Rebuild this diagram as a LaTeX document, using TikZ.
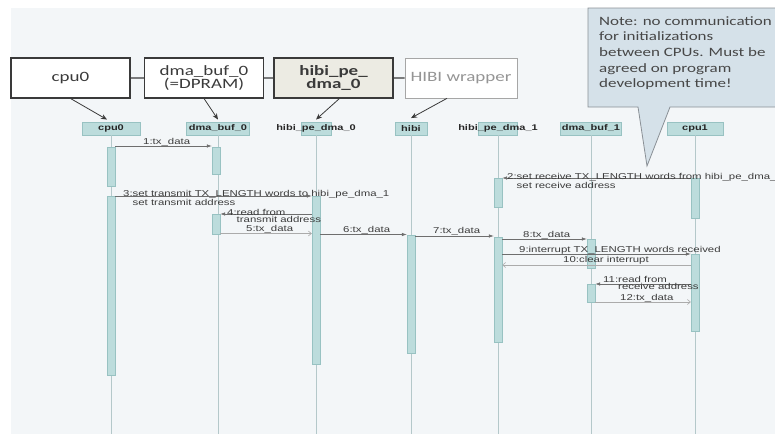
\documentclass[tikz,border=0pt]{standalone}
\usepackage{fontspec}
\setmainfont{Liberation Sans}
\newfontfamily\slidefont{Carlito}
\usetikzlibrary{arrows.meta}

\definecolor{bgc}{HTML}{F3F6F8}
\definecolor{tealf}{HTML}{BCDCDC}
\definecolor{tealb}{HTML}{98C2C2}
\definecolor{lifec}{HTML}{B4C8CA}
\definecolor{callc}{HTML}{6E6E6E}
\definecolor{retc}{HTML}{ABABAB}
\definecolor{lblc}{HTML}{3C3C3C}
\definecolor{boxc}{HTML}{3A3A3A}
\definecolor{hibif}{HTML}{ECEBE3}
\definecolor{wrapc}{HTML}{A6A6A6}
\definecolor{notef}{HTML}{D5E1E9}
\definecolor{noteb}{HTML}{8A9096}

\begin{document}
\begin{tikzpicture}[x=1pt, y=-1.3333pt, yscale=0.75,
  topbox/.style={draw=boxc, line width=1.3pt, fill=white, transform shape,
    minimum width=119pt, minimum height=53.3pt, inner sep=0pt, align=center,
    text=boxc, font=\slidefont\fontsize{19}{17.5}\selectfont},
  head/.style={draw=tealb, fill=tealf, minimum height=13pt, inner sep=0pt},
  headtxt/.style={transform shape, inner sep=0pt, text=black!85,
    font=\bfseries\fontsize{11}{13}\selectfont},
  act/.style={draw=tealb, fill=tealf, minimum width=8pt, inner sep=0pt},
  life/.style={draw=lifec, line width=0.9pt},
  call/.style={draw=callc, line width=0.6pt, -{Latex[length=5pt,width=3.5pt]}},
  ret/.style={draw=retc, line width=0.6pt, -{Straight Barb[length=3pt,width=5pt]}},
  lbl/.style={transform shape, anchor=north west, inner sep=0pt, align=left,
    text=lblc, font=\fontsize{11.4}{9.6}\selectfont},
  ptr/.style={draw=boxc, line width=0.8pt, -{Stealth[length=6pt,width=5pt]}}
]

\useasboundingbox (0,0) rectangle (775,434);
\fill[bgc] (11,8) rectangle (775,434);

% blocks of the platform
\node[topbox] (cpu0box) at (70.5,78) {cpu0};
\node[topbox] (dmabox) at (204,78) {dma\_buf\_0\\(=DPRAM)};
\node[topbox, fill=hibif, font=\slidefont\bfseries\fontsize{19}{18.5}\selectfont] (hpdbox) at (333.5,78) {hibi\_pe\_\\dma\_0};
\node[topbox, draw=wrapc, line width=0.9pt, text=wrapc!90!black, minimum width=112pt] (wrapbox) at (461,78) {HIBI wrapper};
\draw[boxc, line width=1.3pt] (cpu0box) -- (dmabox) (dmabox) -- (hpdbox) (hpdbox) -- (wrapbox);

% note
\draw[noteb, fill=notef, line width=0.8pt] (588,8) -- (780,8) -- (780,107) -- (670,107)
  -- (647,166) -- (638,107) -- (588,107) -- cycle;
\node[transform shape, anchor=north west, inner sep=0pt, align=left, text=black!72,
  font=\slidefont\fontsize{17}{20.7}\selectfont] (notetxt) at (599,16.5)
  {Note: no communication\\for initializations\\between CPUs. Must be\\agreed on program\\development time!};

% lifeline heads
\node[head, minimum width=58pt, label={[headtxt]center:cpu0}] (cpu0) at (111,128.5) {};
\node[head, minimum width=63pt, label={[headtxt]center:dma\_buf\_0}] (dmab0) at (218,128.5) {};
\node[head, minimum width=30pt, label={[headtxt]center:hibi\_pe\_dma\_0}] (hpd0) at (316,128.5) {};
\node[head, minimum width=32pt, label={[headtxt]center:hibi}] (hibi) at (411,128.5) {};
\node[head, minimum width=39pt, label={[headtxt]center:hibi\_pe\_dma\_1}] (hpd1) at (498,128.5) {};
\node[head, minimum width=61pt, label={[headtxt]center:dma\_buf\_1}] (dmab1) at (591,128.5) {};
\node[head, minimum width=56pt, label={[headtxt]center:cpu1}] (cpu1) at (695,128.5) {};

\draw[ptr] (cpu0box.south) -- ([xshift=-4pt,yshift=3pt]cpu0.north);
\draw[ptr] (dmabox.south) -- ([yshift=3pt]dmab0.north);
\draw[ptr] ([xshift=6pt]hpdbox.south) -- ([yshift=3pt]hpd0.north);
\draw[ptr] ([xshift=-14pt]wrapbox.south) -- ([yshift=5pt]hibi.north);

\foreach \n in {cpu0,dmab0,hpd0,hibi,hpd1,dmab1,cpu1}
  \draw[life] (\n.south) -- (\n.south |- 0,434);

% activations
\node[act, minimum height=39pt] (c0a) at (111,166.5) {};
\node[act, minimum height=179pt] (c0b) at (111,285.5) {};
\node[act, minimum height=27pt] (d0a) at (216,160.5) {};
\node[act, minimum height=20pt] (d0b) at (216,224) {};
\node[act, minimum height=168pt] (h0a) at (316,280) {};
\node[act, minimum height=118pt] (hba) at (411,294) {};
\node[act, minimum height=29pt] (h1a) at (498,192.5) {};
\node[act, minimum height=105pt] (h1b) at (498,289.5) {};
\node[act, minimum height=29pt] (d1a) at (591,253.5) {};
\node[act, minimum height=18pt] (d1b) at (591,293) {};
\node[act, minimum height=40pt] (c1a) at (695,198) {};
\node[act, minimum height=77pt] (c1b) at (695,292.5) {};

% messages
\draw[call] (c0a.east |- 0,146) -- (d0a.west |- 0,146);
\node[lbl] (m1) at (143,138.5) {1:tx\_data};
\draw[call] (c1a.west |- 0,178) -- (h1a.east |- 0,178);
\node[lbl] (m2) at (507,173.3) {2:set receive TX\_LENGTH words from hibi\_pe\_dma\_\\\phantom{2:}set receive address};
\draw[call] (c0b.east |- 0,196) -- (h0a.west |- 0,196);
\node[lbl] (m3) at (123,190.3) {3:set transmit TX\_LENGTH words to hibi\_pe\_dma\_1\\\phantom{3:}set transmit address};
\draw[call] (h0a.west |- 0,214) -- (d0b.east |- 0,214);
\node[lbl] (m4) at (227,209.3) {4:read from\\\phantom{4:}transmit address};
\draw[ret] (d0b.east |- 0,233.5) -- (h0a.west |- 0,233.5);
\node[lbl] (m5) at (246,225.3) {5:tx\_data};
\draw[call] (h0a.east |- 0,234.5) -- (hba.west |- 0,234.5);
\node[lbl] (m6) at (343,225.8) {6:tx\_data};
\draw[call] (hba.east |- 0,236) -- (h1b.west |- 0,236);
\node[lbl] (m7) at (433,227.3) {7:tx\_data};
\draw[call] (h1b.east |- 0,239) -- (d1a.west |- 0,239);
\node[lbl] (m8) at (523,230.8) {8:tx\_data};
\draw[call] (h1b.east |- 0,254) -- (c1b.west |- 0,254);
\node[lbl] (m9) at (519,246.3) {9:interrupt TX\_LENGTH words received};
\draw[ret] (c1b.west |- 0,265) -- (h1b.east |- 0,265);
\node[lbl] (m10) at (563,255.8) {10:clear interrupt};
\draw[call] (c1b.west |- 0,284) -- (d1b.east |- 0,284);
\node[lbl] (m11) at (603,276.3) {11:read from\\\phantom{11:}receive address};
\draw[ret] (d1b.east |- 0,302) -- (c1b.west |- 0,302);
\node[lbl] (m12) at (620,294.3) {12:tx\_data};

\end{tikzpicture}
\end{document}
